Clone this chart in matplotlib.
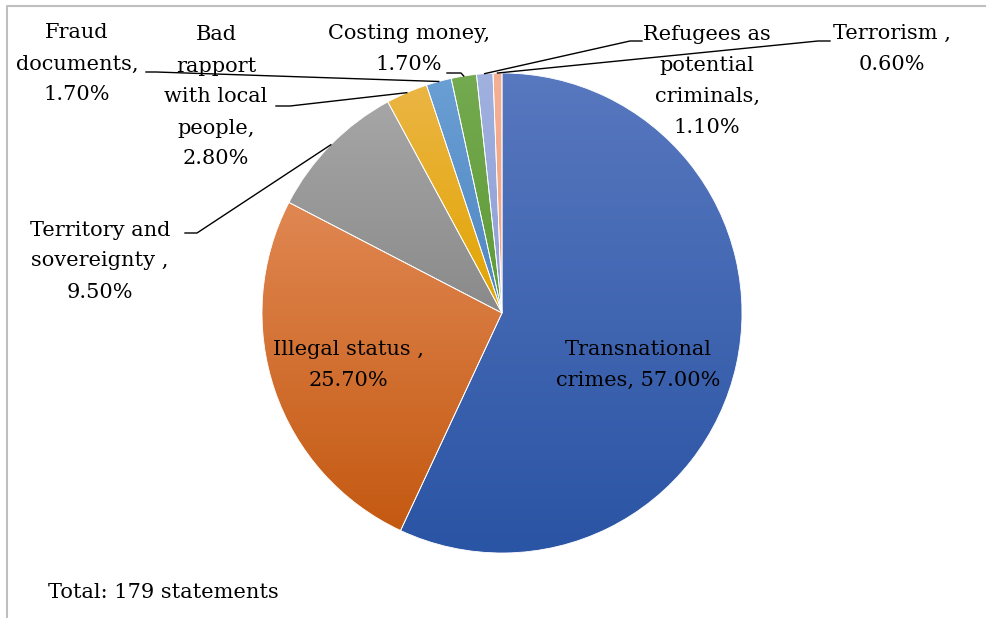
import numpy as np
import matplotlib
matplotlib.use("Agg")
import matplotlib.pyplot as plt
from matplotlib.colors import to_rgb

# data
labels = ["Transnational\ncrimes, 57.00%", "Illegal status ,\n25.70%",
          "Territory and\nsovereignty ,\n9.50%", "Bad\nrapport\nwith local\npeople,\n2.80%",
          "Fraud\ndocuments,\n1.70%", "Costing money,\n1.70%",
          "Refugees as\npotential\ncriminals,\n1.10%", "Terrorism ,\n0.60%"]
values = [57.0, 25.7, 9.5, 2.8, 1.7, 1.7, 1.1, 0.6]
top_colors = ["#5878bf", "#e08752", "#a6a6a6", "#ebb544", "#6a9fd4", "#74aa50", "#a0b0df", "#f4b094"]
bot_colors = ["#2a54a4", "#c45911", "#8a8a8a", "#e2a400", "#4e86c2", "#5e9a36", "#8f9fd6", "#f0a080"]

W, H = 986, 618
def Y(y):
    return H - y

plt.rcParams['font.family'] = ['DejaVu Serif']
fig = plt.figure(figsize=(W / 100, H / 100), dpi=100)
ax = fig.add_axes([0, 0, 1, 1])

cx, cy, R = 502, Y(313), 240
wedges, _ = ax.pie(values, colors=top_colors, startangle=90, counterclock=False,
                   center=(cx, cy), radius=R,
                   wedgeprops=dict(edgecolor="white", linewidth=0.6))

# vertical gradient inside each slice
for w, c0, c1 in zip(wedges, top_colors, bot_colors):
    ext = w.get_path().get_extents()
    t = np.linspace(0, 1, 200)[:, None]
    grad = (1 - t) * np.array(to_rgb(c0)) + t * np.array(to_rgb(c1))
    im = ax.imshow(grad[:, None, :], extent=(ext.x0, ext.x1, ext.y0, ext.y1),
                   origin="upper", aspect="auto", zorder=1, interpolation="bilinear")
    im.set_clip_path(w)
    w.set_facecolor("none")
    w.set_zorder(2)

# labels
fs = 15
ls = 1.8
inside = [(638, 365), (348, 365)]
for (x, y), lab in zip(inside, labels[:2]):
    ax.text(x, Y(y), lab, ha="center", va="center", fontsize=fs, linespacing=ls, color="black")

outside = {2: (100, 261), 3: (216, 97), 4: (77, 64), 5: (409, 49), 6: (707, 81), 7: (892, 49)}
# leader line start points near the label (stub start, stub end)
leaders = {2: [(185, 233), (197, 233)], 3: [(276, 106), (290, 106)],
           4: [(146, 72), (156, 72)], 5: [(447, 73), (461, 73)],
           6: [(642, 41), (630, 41)], 7: [(830, 41), (818, 41)]}

fr = np.array(values) / sum(values)
cum = np.cumsum(fr) - fr / 2
for i, (x, y) in outside.items():
    ax.text(x, Y(y), labels[i], ha="center", va="center", fontsize=fs, linespacing=ls, color="black")
    ang = np.deg2rad(90 - 360 * cum[i])
    ex, ey = cx + R * np.cos(ang), cy + R * np.sin(ang)
    pts = leaders[i]
    xs = [p[0] for p in pts] + [ex]
    ys = [Y(p[1]) for p in pts] + [ey]
    ax.plot(xs, ys, color="black", lw=1, zorder=3)

ax.text(48, Y(593), "Total: 179 statements", ha="left", va="center", fontsize=fs, color="black")

# chart border (only left and top edges are inside the picture)
ax.plot([7, 7, W + 10], [Y(H + 10), Y(6), Y(6)], color="#bfbfbf", lw=1.5, zorder=0, clip_on=False)

ax.set_xlim(0, W)
ax.set_ylim(0, H)
ax.set_aspect("equal")
ax.axis("off")
fig.savefig("out.png", dpi=100)
